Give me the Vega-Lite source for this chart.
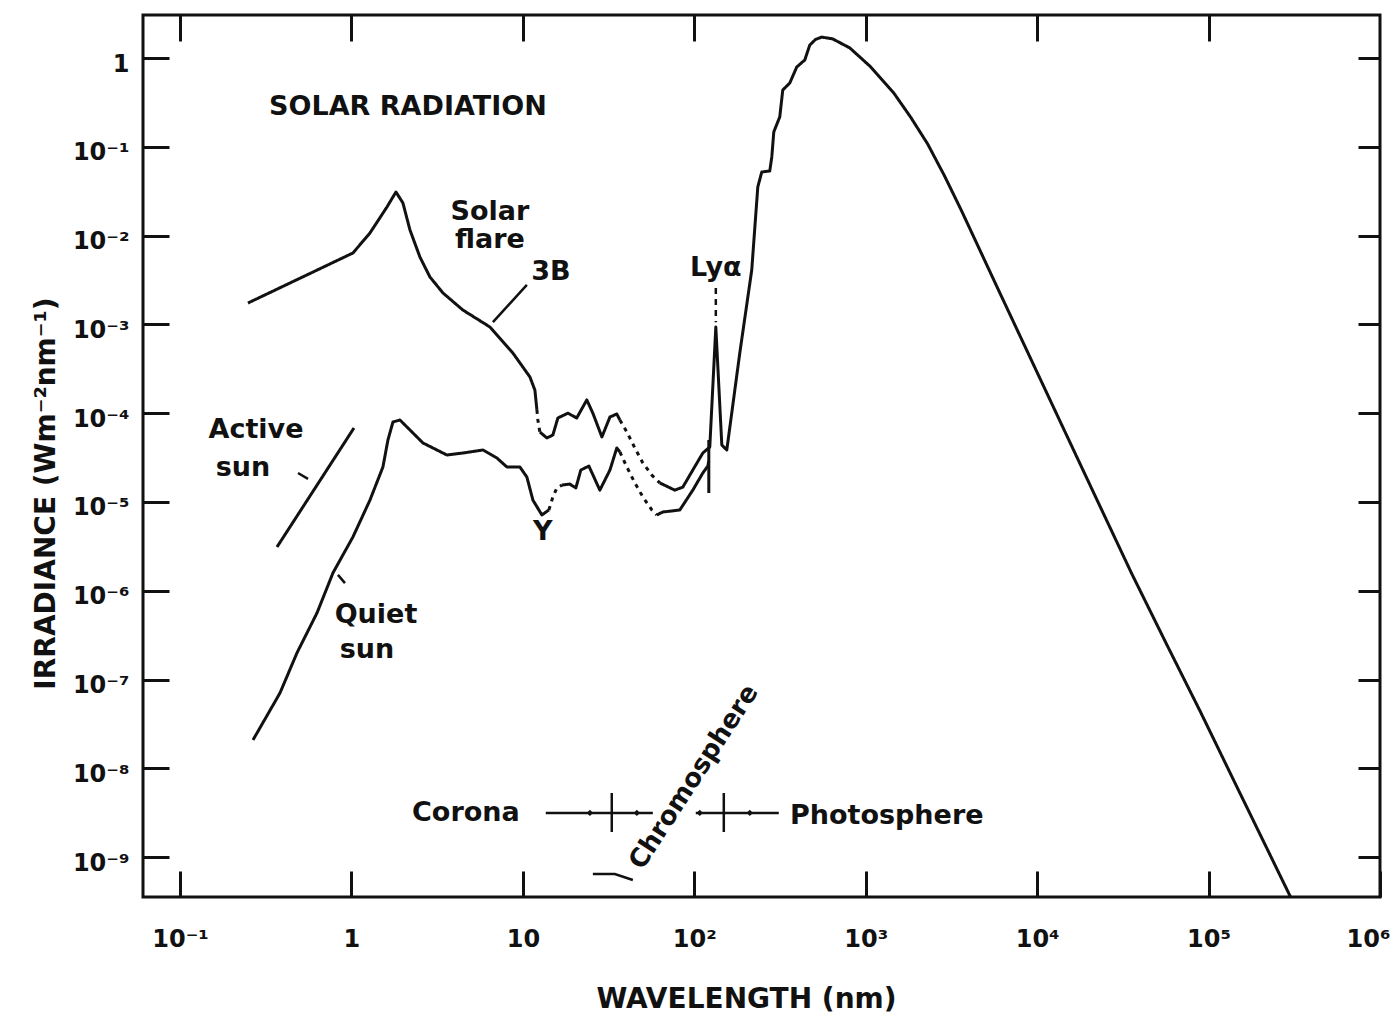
{
  "$schema": "https://vega.github.io/schema/vega-lite/v6.json",
  "width": 1237,
  "height": 882,
  "autosize": {"type": "none"},
  "padding": {"left": 143, "top": 15, "right": 14, "bottom": 126},
  "background": "white",
  "config": {
    "font": "DejaVu Sans",
    "view": {"stroke": "#111", "strokeWidth": 3},
    "axis": {"grid": false, "domain": false, "labelFlush": false, "labelOverlap": false, "labelBound": false}
  },
  "datasets": {
    "spectrum": [
      {"seg": "F1", "trace": "observed", "wl": 0.249, "irr": 0.00174},
      {"seg": "F1", "trace": "observed", "wl": 1.02, "irr": 0.00637},
      {"seg": "F1", "trace": "observed", "wl": 1.282, "irr": 0.0107},
      {"seg": "F1", "trace": "observed", "wl": 1.611, "irr": 0.021},
      {"seg": "F1", "trace": "observed", "wl": 1.818, "irr": 0.031},
      {"seg": "F1", "trace": "observed", "wl": 1.996, "irr": 0.0233},
      {"seg": "F1", "trace": "observed", "wl": 2.193, "irr": 0.0116},
      {"seg": "F1", "trace": "observed", "wl": 2.508, "irr": 0.00574},
      {"seg": "F1", "trace": "observed", "wl": 2.869, "irr": 0.00342},
      {"seg": "F1", "trace": "observed", "wl": 3.416, "irr": 0.00226},
      {"seg": "F1", "trace": "observed", "wl": 4.468, "irr": 0.00145},
      {"seg": "F1", "trace": "observed", "wl": 6.42, "irr": 0.000935},
      {"seg": "F1", "trace": "observed", "wl": 8.74, "irr": 0.000476},
      {"seg": "F1", "trace": "observed", "wl": 10.99, "irr": 0.000256},
      {"seg": "F1", "trace": "observed", "wl": 11.75, "irr": 0.000182},
      {"seg": "F1", "trace": "observed", "wl": 12.07, "irr": 0.000109},
      {"seg": "F2", "trace": "interpolated", "wl": 12.07, "irr": 0.000109},
      {"seg": "F2", "trace": "interpolated", "wl": 12.23, "irr": 0.0000838},
      {"seg": "F2", "trace": "interpolated", "wl": 12.56, "irr": 0.0000614},
      {"seg": "F3", "trace": "observed", "wl": 12.56, "irr": 0.0000614},
      {"seg": "F3", "trace": "observed", "wl": 13.8, "irr": 0.0000526},
      {"seg": "F3", "trace": "observed", "wl": 14.96, "irr": 0.0000568},
      {"seg": "F3", "trace": "observed", "wl": 16.0, "irr": 0.0000883},
      {"seg": "F3", "trace": "observed", "wl": 18.3, "irr": 0.0001},
      {"seg": "F3", "trace": "observed", "wl": 20.6, "irr": 0.0000883},
      {"seg": "F3", "trace": "observed", "wl": 23.6, "irr": 0.000141},
      {"seg": "F3", "trace": "observed", "wl": 25.6, "irr": 0.0001},
      {"seg": "F3", "trace": "observed", "wl": 28.9, "irr": 0.000054},
      {"seg": "F3", "trace": "observed", "wl": 32.2, "irr": 0.0000906},
      {"seg": "F3", "trace": "observed", "wl": 35.3, "irr": 0.000098},
      {"seg": "F3", "trace": "observed", "wl": 36.8, "irr": 0.0000838},
      {"seg": "F4", "trace": "interpolated", "wl": 36.8, "irr": 0.0000838},
      {"seg": "F4", "trace": "interpolated", "wl": 40.4, "irr": 0.0000614},
      {"seg": "F4", "trace": "interpolated", "wl": 45.0, "irr": 0.0000406},
      {"seg": "F4", "trace": "interpolated", "wl": 50.1, "irr": 0.0000275},
      {"seg": "F4", "trace": "interpolated", "wl": 56.5, "irr": 0.0000201},
      {"seg": "F4", "trace": "interpolated", "wl": 62.9, "irr": 0.0000164},
      {"seg": "F5", "trace": "observed", "wl": 62.9, "irr": 0.0000164},
      {"seg": "F5", "trace": "observed", "wl": 76.9, "irr": 0.0000136},
      {"seg": "F5", "trace": "observed", "wl": 85.7, "irr": 0.0000147},
      {"seg": "F5", "trace": "observed", "wl": 98.0, "irr": 0.0000229},
      {"seg": "F5", "trace": "observed", "wl": 112.1, "irr": 0.0000356},
      {"seg": "F5", "trace": "observed", "wl": 123.1, "irr": 0.0000416},
      {"seg": "F5", "trace": "observed", "wl": 133.5, "irr": 0.000935},
      {"seg": "F5", "trace": "observed", "wl": 144.7, "irr": 0.0000438},
      {"seg": "F5", "trace": "observed", "wl": 154.7, "irr": 0.0000385},
      {"seg": "F5", "trace": "observed", "wl": 184.2, "irr": 0.000476},
      {"seg": "F5", "trace": "observed", "wl": 216.3, "irr": 0.0041},
      {"seg": "F5", "trace": "observed", "wl": 234.6, "irr": 0.0353},
      {"seg": "F5", "trace": "observed", "wl": 247.5, "irr": 0.052},
      {"seg": "F5", "trace": "observed", "wl": 275.5, "irr": 0.0534},
      {"seg": "F5", "trace": "observed", "wl": 283.1, "irr": 0.0768},
      {"seg": "F5", "trace": "observed", "wl": 290.8, "irr": 0.147},
      {"seg": "F5", "trace": "observed", "wl": 315.1, "irr": 0.217},
      {"seg": "F5", "trace": "observed", "wl": 328.1, "irr": 0.436},
      {"seg": "F5", "trace": "observed", "wl": 360.6, "irr": 0.523},
      {"seg": "F5", "trace": "observed", "wl": 396, "irr": 0.792},
      {"seg": "F5", "trace": "observed", "wl": 441, "irr": 0.949},
      {"seg": "F5", "trace": "observed", "wl": 471.6, "irr": 1.4},
      {"seg": "F5", "trace": "observed", "wl": 510, "irr": 1.62},
      {"seg": "F5", "trace": "observed", "wl": 553.8, "irr": 1.72},
      {"seg": "F5", "trace": "observed", "wl": 642, "irr": 1.64},
      {"seg": "F5", "trace": "observed", "wl": 806.8, "irr": 1.3},
      {"seg": "F5", "trace": "observed", "wl": 1055, "irr": 0.813},
      {"seg": "F5", "trace": "observed", "wl": 1457, "irr": 0.404},
      {"seg": "F5", "trace": "observed", "wl": 1830, "irr": 0.215},
      {"seg": "F5", "trace": "observed", "wl": 2298, "irr": 0.1075},
      {"seg": "F5", "trace": "observed", "wl": 2890, "irr": 0.0465},
      {"seg": "F5", "trace": "observed", "wl": 3628, "irr": 0.0189},
      {"seg": "F5", "trace": "observed", "wl": 5728, "irr": 0.00285},
      {"seg": "F5", "trace": "observed", "wl": 9043, "irr": 0.000435},
      {"seg": "F5", "trace": "observed", "wl": 14274, "irr": 0.0000665},
      {"seg": "F5", "trace": "observed", "wl": 22530, "irr": 0.0000102},
      {"seg": "F5", "trace": "observed", "wl": 35560, "irr": 0.00000157},
      {"seg": "F5", "trace": "observed", "wl": 56910, "irr": 2.5e-7},
      {"seg": "F5", "trace": "observed", "wl": 89830, "irr": 4.3e-8},
      {"seg": "F5", "trace": "observed", "wl": 141800, "irr": 7.0e-9},
      {"seg": "F5", "trace": "observed", "wl": 223800, "irr": 1.15e-9},
      {"seg": "F5", "trace": "observed", "wl": 300700, "irr": 3.56e-10},
      {"seg": "Q1", "trace": "observed", "wl": 0.2665, "irr": 2.09e-8},
      {"seg": "Q1", "trace": "observed", "wl": 0.3828, "irr": 7.06e-8},
      {"seg": "Q1", "trace": "observed", "wl": 0.4811, "irr": 2.0e-7},
      {"seg": "Q1", "trace": "observed", "wl": 0.6292, "irr": 5.62e-7},
      {"seg": "Q1", "trace": "observed", "wl": 0.78, "irr": 0.00000159},
      {"seg": "Q1", "trace": "observed", "wl": 1.02, "irr": 0.00000404},
      {"seg": "Q1", "trace": "observed", "wl": 1.282, "irr": 0.0000105},
      {"seg": "Q1", "trace": "observed", "wl": 1.526, "irr": 0.0000248},
      {"seg": "Q1", "trace": "observed", "wl": 1.632, "irr": 0.0000499},
      {"seg": "Q1", "trace": "observed", "wl": 1.746, "irr": 0.0000796},
      {"seg": "Q1", "trace": "observed", "wl": 1.918, "irr": 0.0000838},
      {"seg": "Q1", "trace": "observed", "wl": 2.193, "irr": 0.0000647},
      {"seg": "Q1", "trace": "observed", "wl": 2.612, "irr": 0.0000462},
      {"seg": "Q1", "trace": "observed", "wl": 3.605, "irr": 0.0000338},
      {"seg": "Q1", "trace": "observed", "wl": 4.468, "irr": 0.0000356},
      {"seg": "Q1", "trace": "observed", "wl": 5.846, "irr": 0.0000385},
      {"seg": "Q1", "trace": "observed", "wl": 7.053, "irr": 0.0000313},
      {"seg": "Q1", "trace": "observed", "wl": 8.07, "irr": 0.0000248},
      {"seg": "Q1", "trace": "observed", "wl": 9.6, "irr": 0.0000248},
      {"seg": "Q1", "trace": "observed", "wl": 10.55, "irr": 0.0000191},
      {"seg": "Q1", "trace": "observed", "wl": 11.44, "irr": 0.0000105},
      {"seg": "Q1", "trace": "observed", "wl": 12.91, "irr": 0.00000714},
      {"seg": "Q1", "trace": "observed", "wl": 14.18, "irr": 0.00000813},
      {"seg": "Q2", "trace": "interpolated", "wl": 14.18, "irr": 0.00000813},
      {"seg": "Q2", "trace": "interpolated", "wl": 14.96, "irr": 0.0000114},
      {"seg": "Q2", "trace": "interpolated", "wl": 15.79, "irr": 0.0000144},
      {"seg": "Q2", "trace": "interpolated", "wl": 16.88, "irr": 0.0000155},
      {"seg": "Q3", "trace": "observed", "wl": 16.88, "irr": 0.0000155},
      {"seg": "Q3", "trace": "observed", "wl": 18.79, "irr": 0.0000159},
      {"seg": "Q3", "trace": "observed", "wl": 20.37, "irr": 0.0000144},
      {"seg": "Q3", "trace": "observed", "wl": 21.78, "irr": 0.0000229},
      {"seg": "Q3", "trace": "observed", "wl": 24.26, "irr": 0.0000254},
      {"seg": "Q3", "trace": "observed", "wl": 28.12, "irr": 0.0000136},
      {"seg": "Q3", "trace": "observed", "wl": 32.2, "irr": 0.0000229},
      {"seg": "Q3", "trace": "observed", "wl": 35.3, "irr": 0.0000406},
      {"seg": "Q3", "trace": "observed", "wl": 36.8, "irr": 0.0000366},
      {"seg": "Q4", "trace": "interpolated", "wl": 36.8, "irr": 0.0000366},
      {"seg": "Q4", "trace": "interpolated", "wl": 40.4, "irr": 0.0000248},
      {"seg": "Q4", "trace": "interpolated", "wl": 45.0, "irr": 0.0000164},
      {"seg": "Q4", "trace": "interpolated", "wl": 50.1, "irr": 0.0000114},
      {"seg": "Q4", "trace": "interpolated", "wl": 56.5, "irr": 0.00000813},
      {"seg": "Q4", "trace": "interpolated", "wl": 60.4, "irr": 0.00000714},
      {"seg": "Q5", "trace": "observed", "wl": 60.4, "irr": 0.00000714},
      {"seg": "Q5", "trace": "observed", "wl": 65.5, "irr": 0.00000771},
      {"seg": "Q5", "trace": "observed", "wl": 82.3, "irr": 0.00000813},
      {"seg": "Q5", "trace": "observed", "wl": 98.0, "irr": 0.0000136},
      {"seg": "Q5", "trace": "observed", "wl": 112.1, "irr": 0.0000212},
      {"seg": "Q5", "trace": "observed", "wl": 119.9, "irr": 0.0000254},
      {"seg": "Q5", "trace": "observed", "wl": 121.5, "irr": 0.000029},
      {"seg": "Q6", "trace": "observed", "wl": 121.5, "irr": 0.0000499},
      {"seg": "Q6", "trace": "observed", "wl": 121.5, "irr": 0.0000126},
      {"seg": "A1", "trace": "observed", "wl": 0.3677, "irr": 0.00000311},
      {"seg": "A1", "trace": "observed", "wl": 1.034, "irr": 0.0000681}
    ],
    "leaders": [
      {"seg": "active", "wl": 0.4875, "irr": 0.0000212},
      {"seg": "active", "wl": 0.5577, "irr": 0.0000182},
      {"seg": "quiet", "wl": 0.834, "irr": 0.00000151},
      {"seg": "quiet", "wl": 0.9165, "irr": 0.00000122},
      {"seg": "flare", "wl": 6.685, "irr": 0.00106},
      {"seg": "flare", "wl": 10.55, "irr": 0.00278},
      {"seg": "chromo", "wl": 25.6, "irr": 6.47e-10},
      {"seg": "chromo", "wl": 34.4, "irr": 6.47e-10},
      {"seg": "chromo", "wl": 43.8, "irr": 5.53e-10},
      {"seg": "corona", "wl": 13.6, "irr": 3.15e-9},
      {"seg": "corona", "wl": 57.3, "irr": 3.15e-9},
      {"seg": "photo", "wl": 102, "irr": 3.15e-9},
      {"seg": "photo", "wl": 311, "irr": 3.15e-9},
      {"seg": "cross1", "wl": 33.0, "irr": 5.28e-9},
      {"seg": "cross1", "wl": 33.0, "irr": 1.92e-9},
      {"seg": "cross2", "wl": 148.6, "irr": 5.28e-9},
      {"seg": "cross2", "wl": 148.6, "irr": 1.92e-9}
    ],
    "boundaryMarks": [
      {"wl": 24.6, "irr": 3.15e-9},
      {"wl": 46.2, "irr": 3.15e-9},
      {"wl": 107.6, "irr": 3.15e-9},
      {"wl": 210.7, "irr": 3.15e-9}
    ],
    "lyaLeader": [
      {"wl": 133.5, "irr": 0.00257},
      {"wl": 133.5, "irr": 0.00106}
    ],
    "notes": [
      {"text": "SOLAR RADIATION", "wl": 2.135, "irr": 0.281},
      {"text": "Solar", "wl": 6.42, "irr": 0.0184},
      {"text": "flare", "wl": 6.42, "irr": 0.00892},
      {"text": "3B", "wl": 14.57, "irr": 0.00389},
      {"text": "Lyα", "wl": 133.5, "irr": 0.00432},
      {"text": "Active", "wl": 0.2773, "irr": 0.0000647},
      {"text": "sun", "wl": 0.233, "irr": 0.0000241},
      {"text": "Quiet", "wl": 1.39, "irr": 5.34e-7},
      {"text": "sun", "wl": 1.231, "irr": 2.15e-7},
      {"text": "Corona", "wl": 4.65, "irr": 3.15e-9},
      {"text": "Photosphere", "wl": 1326, "irr": 2.91e-9},
      {"text": "Y", "wl": 13.08, "irr": 0.00000459}
    ],
    "regions": [
      {"text": "Chromosphere", "wl": 99.3, "irr": 8.0e-9}
    ]
  },
  "layer": [
    {
      "data": {"name": "spectrum"},
      "mark": {"type": "line", "color": "#111", "strokeWidth": 3, "strokeJoin": "round"},
      "encoding": {
        "x": {
          "field": "wl", "type": "quantitative",
          "scale": {"type": "log", "domain": [0.0608, 1000000], "nice": false},
          "axis": {
            "orient": "bottom",
            "values": [0.1, 1, 10, 100, 1000, 10000, 100000, 1000000],
            "labelExpr": "['10⁻¹','1','10','10²','10³','10⁴','10⁵','10⁶'][round(log(datum.value)/LN10)+1]",
            "tickSize": -26, "tickWidth": 3, "tickColor": "#111",
            "labelPadding": 56, "labelFontSize": 24, "labelFontWeight": "bold", "labelColor": "#111",
            "labelBaseline": "top",
            "labelAlign": {"condition": {"test": "datum.value > 500000", "value": "right"}, "value": "center"},
            "labelOffset": {"condition": {"test": "datum.value > 500000", "value": 10}, "value": 0},
            "title": "WAVELENGTH (nm)", "titleFontSize": 28, "titleFontWeight": "bold", "titleColor": "#111",
            "titleX": 603, "titleY": 102, "titleAlign": "center", "titleBaseline": "middle", "titleAnchor": null
          }
        },
        "y": {
          "field": "irr", "type": "quantitative",
          "scale": {"type": "log", "domain": [3.56e-10, 3.05], "nice": false},
          "axis": {
            "orient": "left",
            "values": [1, 0.1, 0.01, 0.001, 0.0001, 0.00001, 0.000001, 1e-7, 1e-8, 1e-9],
            "labelExpr": "['10⁻⁹','10⁻⁸','10⁻⁷','10⁻⁶','10⁻⁵','10⁻⁴','10⁻³','10⁻²','10⁻¹','1'][round(log(datum.value)/LN10)+9]",
            "tickSize": -26, "tickWidth": 3, "tickColor": "#111",
            "labelPadding": 40, "labelOffset": 6, "labelFontSize": 24, "labelFontWeight": "bold", "labelColor": "#111",
            "title": "IRRADIANCE  (Wm⁻²nm⁻¹)", "titleFontSize": 28, "titleFontWeight": "bold", "titleColor": "#111",
            "titleX": -97, "titleY": 478, "titleAngle": -90, "titleAlign": "center", "titleBaseline": "middle", "titleAnchor": null
          }
        },
        "detail": {"field": "seg"},
        "strokeDash": {
          "field": "trace", "type": "nominal",
          "scale": {"domain": ["observed", "interpolated"], "range": [[1, 0], [4, 5]]},
          "legend": null
        }
      }
    },
    {
      "data": {"name": "leaders"},
      "mark": {"type": "line", "color": "#111", "strokeWidth": 2.5},
      "encoding": {
        "x": {
          "field": "wl", "type": "quantitative",
          "scale": {"type": "log", "domain": [0.0608, 1000000], "nice": false},
          "axis": {
            "orient": "top", "labels": false, "title": null,
            "values": [0.1, 1, 10, 100, 1000, 10000, 100000],
            "tickSize": -26, "tickWidth": 3, "tickColor": "#111"
          }
        },
        "y": {
          "field": "irr", "type": "quantitative",
          "scale": {"type": "log", "domain": [3.56e-10, 3.05], "nice": false},
          "axis": {
            "orient": "right", "labels": false, "title": null,
            "values": [1, 0.1, 0.01, 0.001, 0.0001, 0.00001, 0.000001, 1e-7, 1e-8, 1e-9],
            "tickSize": -22, "tickWidth": 3, "tickColor": "#111"
          }
        },
        "detail": {"field": "seg"}
      }
    },
    {
      "data": {"name": "boundaryMarks"},
      "mark": {"type": "point", "shape": "diamond", "filled": true, "color": "#111", "size": 40, "opacity": 1},
      "encoding": {
        "x": {"field": "wl", "type": "quantitative", "axis": null},
        "y": {"field": "irr", "type": "quantitative", "axis": null}
      }
    },
    {
      "data": {"name": "lyaLeader"},
      "mark": {"type": "line", "color": "#111", "strokeWidth": 2.5, "strokeDash": [6, 5]},
      "encoding": {
        "x": {"field": "wl", "type": "quantitative", "axis": null},
        "y": {"field": "irr", "type": "quantitative", "axis": null}
      }
    },
    {
      "data": {"name": "notes"},
      "mark": {"type": "text", "font": "DejaVu Sans", "fontSize": 27, "fontWeight": "bold", "color": "#111", "align": "center", "baseline": "middle"},
      "encoding": {
        "x": {"field": "wl", "type": "quantitative", "axis": null},
        "y": {"field": "irr", "type": "quantitative", "axis": null},
        "text": {"field": "text"}
      }
    },
    {
      "data": {"name": "regions"},
      "mark": {"type": "text", "font": "DejaVu Sans", "fontSize": 26, "fontWeight": "bold", "color": "#111", "align": "center", "baseline": "middle", "angle": -57},
      "encoding": {
        "x": {"field": "wl", "type": "quantitative", "axis": null},
        "y": {"field": "irr", "type": "quantitative", "axis": null},
        "text": {"field": "text"}
      }
    }
  ],
  "resolve": {"axis": {"x": "independent", "y": "independent"}}
}
